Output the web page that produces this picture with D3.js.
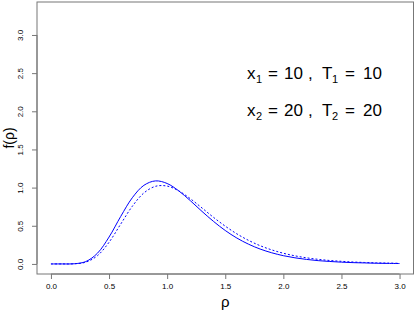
<!DOCTYPE html>
<html>
<head>
<meta charset="utf-8">
<script src="https://cdn.jsdelivr.net/npm/d3@7"></script>
<style>
  body { margin: 0; background: #fff; }
  text { font-family: "Liberation Sans", Arial, sans-serif; fill: #000; }
</style>
</head>
<body>
<div id="chart"></div>
<script>
// values
var rho = [0.0, 0.1, 0.2, 0.3, 0.4, 0.5, 0.6, 0.7, 0.8, 0.9, 1.0,
           1.1, 1.2, 1.3, 1.4, 1.5, 1.6, 1.7, 1.8, 1.9, 2.0,
           2.1, 2.2, 2.3, 2.4, 2.5, 2.6, 2.7, 2.8, 2.9, 3.0];
var solid = [0, 0, 0.002, 0.031, 0.140, 0.352, 0.621, 0.867, 1.030, 1.088, 1.054,
             0.957, 0.828, 0.688, 0.556, 0.438, 0.339, 0.259, 0.195, 0.146, 0.108,
             0.080, 0.059, 0.043, 0.032, 0.023, 0.017, 0.013, 0.009, 0.007, 0.005];
var dashed = [0, 0, 0.002, 0.023, 0.108, 0.284, 0.521, 0.755, 0.930, 1.017, 1.020,
              0.957, 0.854, 0.733, 0.609, 0.495, 0.394, 0.309, 0.239, 0.184, 0.140,
              0.106, 0.080, 0.060, 0.045, 0.034, 0.025, 0.019, 0.014, 0.011, 0.008];
var xTicks = [0, 0.5, 1, 1.5, 2, 2.5, 3];
var yTicks = [0, 0.5, 1, 1.5, 2, 2.5, 3];
var noteRows = [
    ["x", "1", "10", "T", "1", "10"],
    ["x", "2", "20", "T", "2", "20"]
];

var width = 415, height = 312;
var box = { left: 37, right: 413.5, top: 2, bottom: 274 };

var svg = d3.select("#chart").append("svg")
    .attr("width", width)
    .attr("height", height);

// R style: limits widened by 4%
var x = d3.scaleLinear().domain([-0.12, 3.12]).range([box.left, box.right]);
var y = d3.scaleLinear().domain([-0.132, 3.432]).range([box.bottom, box.top]);

// plot frame
svg.append("rect")
    .attr("x", box.left).attr("y", box.top)
    .attr("width", box.right - box.left).attr("height", box.bottom - box.top)
    .attr("fill", "none").attr("stroke", "#777").attr("stroke-width", 1);

// x axis
var xAxis = svg.append("g")
    .attr("transform", "translate(0," + box.bottom + ")")
    .call(d3.axisBottom(x).tickValues(xTicks).tickFormat(d3.format(".1f")).tickSize(5).tickPadding(4));
xAxis.select(".domain").attr("d", "M" + x(0) + ",0H" + x(3)).attr("stroke", "#777");
xAxis.selectAll(".tick line").attr("stroke", "#777");
xAxis.selectAll("text").style("font-size", "8px").attr("fill", "#000");

// y axis, labels turned like R
var yAxis = svg.append("g")
    .attr("transform", "translate(" + box.left + ",0)")
    .call(d3.axisLeft(y).tickValues(yTicks).tickFormat(d3.format(".1f")).tickSize(5));
yAxis.select(".domain").attr("d", "M0," + y(0) + "V" + y(3)).attr("stroke", "#777");
yAxis.selectAll(".tick line").attr("stroke", "#777");
yAxis.selectAll("text")
    .style("font-size", "8px").attr("fill", "#000")
    .attr("x", 0).attr("dy", null)
    .attr("text-anchor", "middle")
    .attr("transform", "translate(-14,0) rotate(-90)");

// curves
var line = d3.line()
    .x(function (d) { return x(d[0]); })
    .y(function (d) { return y(d[1]); })
    .curve(d3.curveCatmullRom);

svg.append("path")
    .datum(d3.zip(rho, solid))
    .attr("d", line)
    .attr("fill", "none").attr("stroke", "#0000ff").attr("stroke-width", 1);

svg.append("path")
    .datum(d3.zip(rho, dashed))
    .attr("d", line)
    .attr("fill", "none").attr("stroke", "#0000ff").attr("stroke-width", 1)
    .attr("stroke-dasharray", "2,2");

// axis titles
svg.append("text")
    .attr("x", (box.left + box.right) / 2).attr("y", 307)
    .attr("text-anchor", "middle")
    .style("font-size", "15px")
    .text("ρ");

svg.append("text")
    .attr("transform", "translate(14," + ((box.top + box.bottom) / 2) + ") rotate(-90)")
    .attr("text-anchor", "middle")
    .style("font-size", "14px")
    .text("f(ρ)");

// annotation, pieces placed like plotmath spacing
noteRows.forEach(function (r, i) {
    var g = svg.append("g").attr("transform", "translate(0," + (79 + i * 37) + ")");
    var parts = [
        { t: r[0], at: 247, sub: false },
        { t: r[1], at: 256, sub: true },
        { t: "=", at: 268, sub: false },
        { t: r[2], at: 284, sub: false },
        { t: ",", at: 308, sub: false },
        { t: r[3], at: 322, sub: false },
        { t: r[4], at: 332, sub: true },
        { t: "=", at: 345, sub: false },
        { t: r[5], at: 363, sub: false }
    ];
    g.selectAll("text").data(parts).enter().append("text")
        .attr("x", function (d) { return d.at; })
        .attr("y", function (d) { return d.sub ? 4 : 0; })
        .style("font-size", function (d) { return d.sub ? "11px" : "17px"; })
        .text(function (d) { return d.t; });
});
</script>
</body>
</html>
